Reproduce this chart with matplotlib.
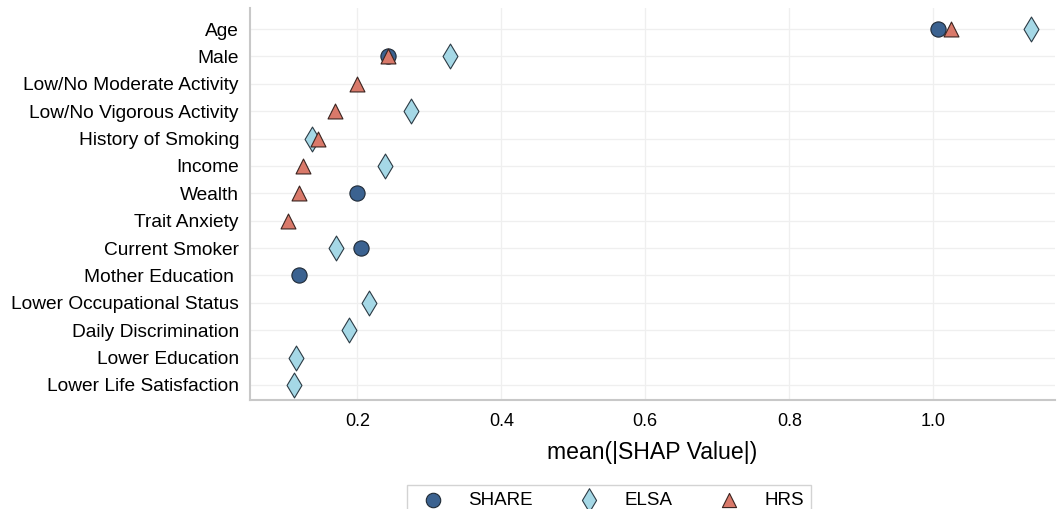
import numpy as np
import matplotlib.pyplot as plt

# ===========================
# Data
# ===========================

features = [
    "Age", "Male", "Low/No Moderate Activity", "Low/No Vigorous Activity",
    "History of Smoking", "Income", "Wealth", "Trait Anxiety",
    "Current Smoker", "Mother Education ", "Lower Occupational Status",
    "Daily Discrimination", "Lower Education", "Lower Life Satisfaction",
]

# nan = feature not present for that cohort
share = [1.007, 0.242, np.nan, np.nan, np.nan, np.nan, 0.200, np.nan,
         0.205, 0.119, np.nan, np.nan, np.nan, np.nan]
elsa = [1.135, 0.329, np.nan, 0.274, 0.137, 0.239, np.nan, np.nan,
        0.171, np.nan, 0.216, 0.188, 0.115, 0.112]
hrs = [1.024, 0.243, 0.200, 0.169, 0.146, 0.124, 0.119, 0.104,
       np.nan, np.nan, np.nan, np.nan, np.nan, np.nan]

plt.rcParams['font.family'] = ['Liberation Sans', 'DejaVu Sans']

# ===========================
# Plot
# ===========================

fig = plt.figure(figsize=(10.57, 5.09), dpi=100)
ax = fig.add_axes([250 / 1057, 1 - 400 / 509, 805 / 1057, 392 / 509])

y = np.arange(len(features))

ax.scatter(share, y, marker="o", s=120, color="#3b6290",
           edgecolor="#1f2a36", linewidth=0.8, label="SHARE", zorder=3)
ax.scatter(elsa, y, marker="d", s=160, color="#a5d8e6",
           edgecolor="#2b3a44", linewidth=0.8, label="ELSA", zorder=3)
ax.scatter(hrs, y, marker="^", s=115, color="#d9796a",
           edgecolor="#3a2420", linewidth=0.8, label="HRS", zorder=4)

ax.set_yticks(y)
ax.set_yticklabels(features, fontsize=13.8)
ax.set_ylim(13.55, -0.77)
ax.set_xlim(0.051, 1.169)
ax.set_xticks([0.2, 0.4, 0.6, 0.8, 1.0])
ax.tick_params(axis="x", labelsize=13, length=0, pad=9)
ax.tick_params(axis="y", length=0, pad=8)

ax.set_xlabel("mean(|SHAP Value|)", fontsize=16.6, labelpad=8)

ax.grid(True, color="#efefef", linewidth=0.9)
ax.set_axisbelow(True)

for side in ["top", "right"]:
    ax.spines[side].set_visible(False)
for side in ["left", "bottom"]:
    ax.spines[side].set_color("#c8c8c8")
    ax.spines[side].set_linewidth(1.5)

fig.legend(loc="upper center", bbox_to_anchor=(609 / 1057, 1 - 476 / 509),
           ncol=3, fontsize=13.5, frameon=True, edgecolor="#c8c8c8",
           fancybox=False, handletextpad=0.9, columnspacing=2.0,
           borderpad=0.35, markerscale=0.95)

fig.savefig("out.png", dpi=100)
